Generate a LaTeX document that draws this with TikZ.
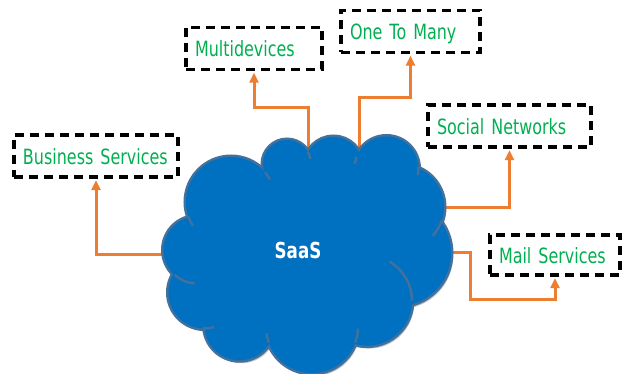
\documentclass[tikz,border=0pt]{standalone}
\usepackage{fontspec}
\usepackage{tikz}
\usetikzlibrary{arrows.meta}

\newfontfamily\labelfont[FakeStretch=0.76]{DejaVu Sans}
\definecolor{labelgreen}{RGB}{0,176,80}
\definecolor{linkorange}{RGB}{237,125,49}
\definecolor{cloudblue}{RGB}{0,112,192}
\definecolor{cloudedge}{RGB}{65,113,156}

\begin{document}
\begin{tikzpicture}[x=1pt, y=1pt, >={Triangle[length=10pt,width=9pt]},
  service/.style={draw, line width=3.2pt, dash pattern=on 9pt off 6pt,
    inner xsep=9pt, minimum height=42pt, text height=18pt, text depth=1pt,
    align=left, text=labelgreen, font=\labelfont\fontsize{21}{21}\selectfont},
  link/.style={->, draw=linkorange, line width=3pt, shorten >=1.5pt}]
\useasboundingbox (0,0) rectangle (624,374);
\def\cloudlobes{231/172/45, 287/210/24, 333.5/208/29, 386.5/205.5/32,
  402/167/42, 398/121/53, 367/73.4/45, 312/47/46, 239.5/48.8/35,
  204.5/81.5/36, 197/124/33.5}

\node [service, text width=146pt] (business) at (96,218) {Business Services};
\node [service, text width=118pt] (multidevices) at (254,325.5) {Multidevices};
\node [service, text width=121pt] (onetomany) at (410.5,342.5) {One To Many};
\node [service, text width=145pt] (social) at (509.5,248) {Social Networks};
\node [service, text width=112pt, minimum height=40pt] (mail) at (555,119) {Mail Services};

% shadow under the cloud
\foreach \cx/\cy/\r in \cloudlobes
  \fill [black!22] (\cx+2,\cy-3) circle (\r);

\coordinate (s-business) at (172,119);
\coordinate (s-multi) at (308,212);
\coordinate (s-one) at (359,212);
\coordinate (s-social) at (436,166);
\coordinate (s-mail) at (445,121);

\draw [link] (s-business) -| (business.south);
\draw [link] (s-multi) -- ++(0,54) -| (multidevices.south);
\draw [link] (s-one) -- ++(0,64) -| (onetomany.south);
\draw [link] (s-social) -| (social.south);
\draw [link] (s-mail) -- ++(25,0) -- ++(0,-47) -| (mail.south);

% cloud
\foreach \cx/\cy/\r in \cloudlobes
  \draw [cloudedge, line width=5pt] (\cx,\cy) circle (\r);
\fill [cloudblue] (310,120) ellipse [x radius=95, y radius=85];
\foreach \cx/\cy/\r in \cloudlobes
  \fill [cloudblue] (\cx,\cy) circle (\r);
\foreach \cx/\cy/\r/\a/\b in {231/172/45/199/212, 231/172/45/41/30,
    287/210/24/30/12, 386.5/205.5/32/159/172, 386.5/205.5/32/3/-12,
    402/167/42/-18/-43, 367/73.4/45/0/60, 312/47/46/-20/-2,
    312/47/46/200/188, 204.5/81.5/36/268/285, 197/124/33.5/228/266}
  \draw [cloudedge, line width=2.5pt] ([shift={(\a:\r)}]\cx,\cy)
    arc [start angle=\a, end angle=\b, radius=\r];

\node [text=white, font=\labelfont\bfseries\fontsize{22}{22}\selectfont] (saas) at (298,124) {SaaS};
\end{tikzpicture}
\end{document}
